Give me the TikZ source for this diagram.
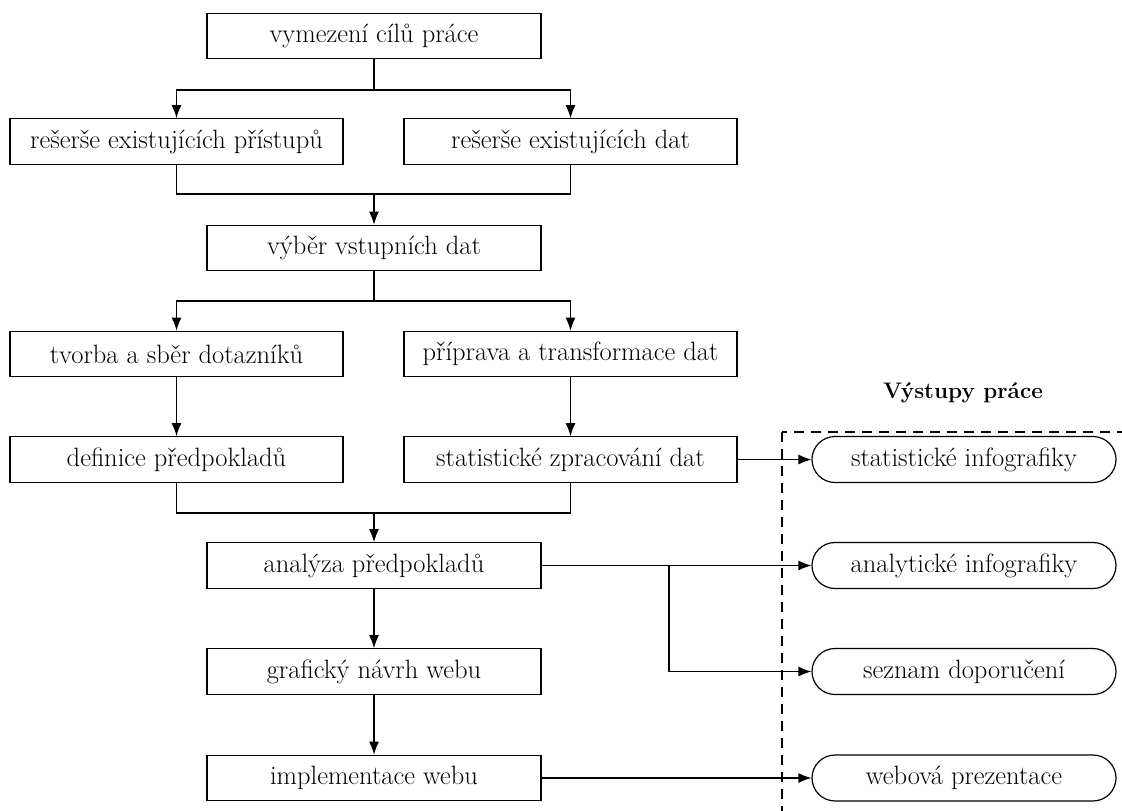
\documentclass[tikz,border=0pt]{standalone}
\usepackage{fontspec}
\usetikzlibrary{arrows.meta,positioning}
\begin{document}
\begin{tikzpicture}[x=1pt,y=-1pt,
  line width=1.2pt,
  every node/.style={font=\fontsize{26.5}{31}\selectfont},
  stepbox/.style={draw, rectangle, minimum height=45.5pt, inner sep=0pt, line width=1.2pt},
  widebox/.style={stepbox, minimum width=334pt},
  sidebox/.style={stepbox, minimum width=333pt},
  outbox/.style={draw, rectangle, rounded corners=23pt, minimum width=304pt, minimum height=46pt, inner sep=0pt, line width=1.2pt},
  arr/.style={-{Latex[length=13pt,width=10pt]}},
  frame/.style={dash pattern=on 10pt off 7pt, line width=1.1pt}
]
\clip (0,0) rectangle (1122,811);
\fill[white] (0,0) rectangle (1122,811);

% main column
\node[widebox] (cile) at (374,36) {vymezení cílů práce};
\node[sidebox] (rpr) at (176.5,141.5) {rešerše existujících přístupů};
\node[sidebox] (rdat) at (570.5,141.5) {rešerše existujících dat};
\node[widebox] (vyber) at (374,248) {výběr vstupních dat};
\node[sidebox] (tvorba) at (176.5,354) {tvorba a sběr dotazníků};
\node[sidebox] (priprava) at (570.5,354) {příprava a transformace dat};
\node[sidebox] (definice) at (176.5,459.5) {definice předpokladů};
\node[sidebox] (stat) at (570.5,459.5) {statistické zpracování dat};
\node[widebox] (analyza) at (374,565.5) {analýza předpokladů};
\node[widebox] (graf) at (374,671.5) {grafický návrh webu};
\node[widebox] (impl) at (374,778) {implementace webu};

% outputs
\draw[frame] (782,432) rectangle (1150,840);
\node[font=\fontsize{22.5}{27}\selectfont\bfseries] (titul) at (963,393) {Výstupy práce};
\node[outbox] (oStat) at (964,459.5) {statistické infografiky};
\node[outbox] (oAnal) at (964,565.5) {analytické infografiky};
\node[outbox] (oSez) at (964,671.5) {seznam doporučení};
\node[outbox] (oWeb) at (964,778) {webová prezentace};

% junction coordinates
\coordinate (j1) at (374,90);
\coordinate (j2) at (374,194);
\coordinate (j3) at (374,301);
\coordinate (j4) at (374,513);
\coordinate (j5) at (669,565.5);

% connectors
\draw (cile.south) -- (j1);
\draw[arr] (j1) -| (rpr.north);
\draw[arr] (j1) -| (rdat.north);

\draw (rpr.south) |- (j2);
\draw (rdat.south) |- (j2);
\draw[arr] (j2) -- (vyber.north);

\draw (vyber.south) -- (j3);
\draw[arr] (j3) -| (tvorba.north);
\draw[arr] (j3) -| (priprava.north);

\draw[arr] (tvorba) -- (definice);
\draw[arr] (priprava) -- (stat);

\draw (definice.south) |- (j4);
\draw (stat.south) |- (j4);
\draw[arr] (j4) -- (analyza.north);

\draw[arr] (analyza) -- (graf);
\draw[arr] (graf) -- (impl);

\draw[arr] (stat.east) -- (oStat.west);
\draw[arr] (analyza.east) -- (oAnal.west);
\draw[arr] (j5) |- (oSez.west);
\draw[arr] (impl.east) -- (oWeb.west);
\end{tikzpicture}
\end{document}
